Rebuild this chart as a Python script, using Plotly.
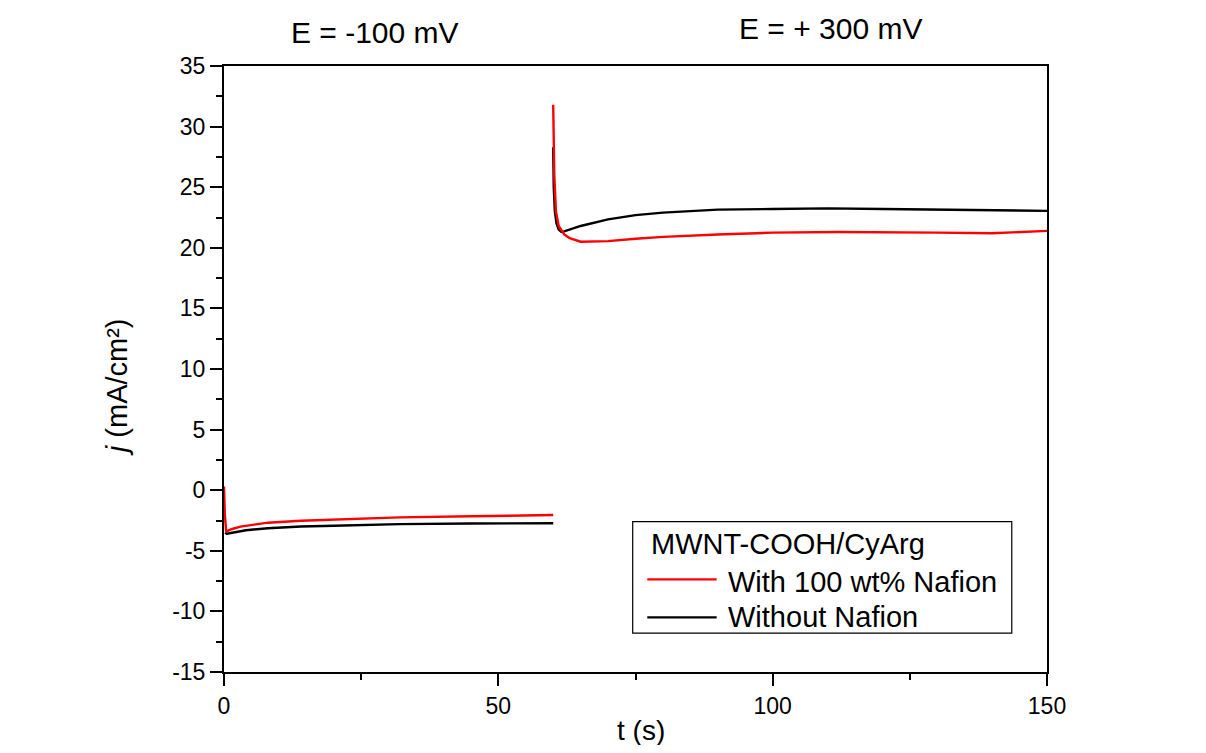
import plotly.graph_objects as go

# Red: With 100 wt% Nafion
t_red_1 = [0, 0.15, 0.4, 0.8, 1.5, 3, 5, 8, 14, 20, 32, 45, 60]
j_red_1 = [0.3, -2.0, -3.4, -3.35, -3.2, -3.0, -2.85, -2.68, -2.52, -2.42, -2.24, -2.15, -2.05]
t_red_2 = [60, 60.2, 60.5, 61, 62, 63, 65, 70, 75, 80, 90, 100, 112, 120, 130, 140, 150]
j_red_2 = [31.8, 26.0, 23.0, 21.8, 21.1, 20.8, 20.5, 20.55, 20.75, 20.9, 21.1, 21.25, 21.3, 21.3, 21.25, 21.2, 21.4]

# Black: Without Nafion
t_blk_1 = [0.2, 0.5, 1, 2, 4, 8, 14, 20, 32, 45, 60]
j_blk_1 = [-3.5, -3.6, -3.55, -3.45, -3.3, -3.14, -3.0, -2.93, -2.8, -2.75, -2.73]
t_blk_2 = [60, 60.1, 60.3, 60.6, 61, 61.5, 62, 65, 70, 75, 80, 85, 90, 100, 110, 120, 130, 140, 150]
j_blk_2 = [28.3, 25.0, 23.0, 22.0, 21.5, 21.3, 21.35, 21.8, 22.35, 22.7, 22.9, 23.05, 23.15, 23.2, 23.25, 23.2, 23.15, 23.15, 23.05]

x_ticks = [0, 50, 100, 150]
y_ticks = [-15, -10, -5, 0, 5, 10, 15, 20, 25, 30, 35]
y_ticktext = [str(v) for v in y_ticks]  # hyphen-minus as in the original

legend_title = "MWNT-COOH/CyArg"
name_red = "With 100 wt% Nafion"
name_blk = "Without Nafion"
RED = "#ff0000"
BLK = "#000000"

FONT = "Liberation Sans, Arial, sans-serif"

fig = go.Figure()
fig.add_trace(go.Scatter(x=t_blk_1 + [None] + t_blk_2, y=j_blk_1 + [None] + j_blk_2,
                         mode="lines", line=dict(color=BLK, width=2.4),
                         name=name_blk, showlegend=False, connectgaps=False))
fig.add_trace(go.Scatter(x=t_red_1 + [None] + t_red_2, y=j_red_1 + [None] + j_red_2,
                         mode="lines", line=dict(color=RED, width=2.4),
                         name=name_red, showlegend=False, connectgaps=False))

axis_common = dict(showline=True, linecolor="black", linewidth=2, mirror=True,
                   ticks="outside", ticklen=12, tickwidth=2, tickcolor="black",
                   showgrid=False, zeroline=False,
                   tickfont=dict(family=FONT, size=23, color="black"))

fig.update_xaxes(range=[0, 150], tickvals=x_ticks, ticktext=[str(v) for v in x_ticks],
                 minor=dict(ticks="outside", ticklen=6, tickwidth=2, tickcolor="black", dtick=25, tick0=0),
                 **axis_common)
fig.update_yaxes(range=[-15, 35], tickvals=y_ticks, ticktext=y_ticktext,
                 minor=dict(ticks="outside", ticklen=6, tickwidth=2, tickcolor="black", dtick=2.5, tick0=-15),
                 **axis_common)

def ann(text, x, y, size, xanchor="center", angle=0):
    fig.add_annotation(text=text, x=x, y=y, xref="paper", yref="paper",
                       xanchor=xanchor, yanchor="middle", showarrow=False, textangle=angle,
                       font=dict(family=FONT, size=size, color="black"))

# titles
ann("E = -100 mV", 0.1835, 1.055, 30)
ann("E = + 300 mV", 0.7375, 1.062, 30)
ann("t (s)", 0.5067, -0.097, 28)
ann("<i>j</i> (mA/cm²)", -0.130, 0.470, 29, angle=-90)

# legend box (drawn like the original's framed legend)
fig.add_shape(type="rect", xref="paper", yref="paper",
              x0=0.4966, x1=0.9572, y0=0.0640, y1=0.2480,
              line=dict(color="black", width=1.2), fillcolor="white", layer="above")
ann(legend_title, 0.5164, 0.2110, 29, xanchor="left")
fig.add_shape(type="line", xref="paper", yref="paper", x0=0.5143, x1=0.5986, y0=0.1530, y1=0.1530,
              line=dict(color=RED, width=2.2), layer="above")
ann(name_red, 0.6100, 0.1490, 29, xanchor="left")
fig.add_shape(type="line", xref="paper", yref="paper", x0=0.5143, x1=0.5986, y0=0.0900, y1=0.0900,
              line=dict(color=BLK, width=2.2), layer="above")
ann(name_blk, 0.6100, 0.0910, 29, xanchor="left")

fig.update_layout(
    width=1190, height=737,
    margin=dict(l=216, r=151, t=58, b=73),
    paper_bgcolor="white", plot_bgcolor="white",
    font=dict(family=FONT, color="black"),
    showlegend=False,
)

fig.write_html("out.html")
